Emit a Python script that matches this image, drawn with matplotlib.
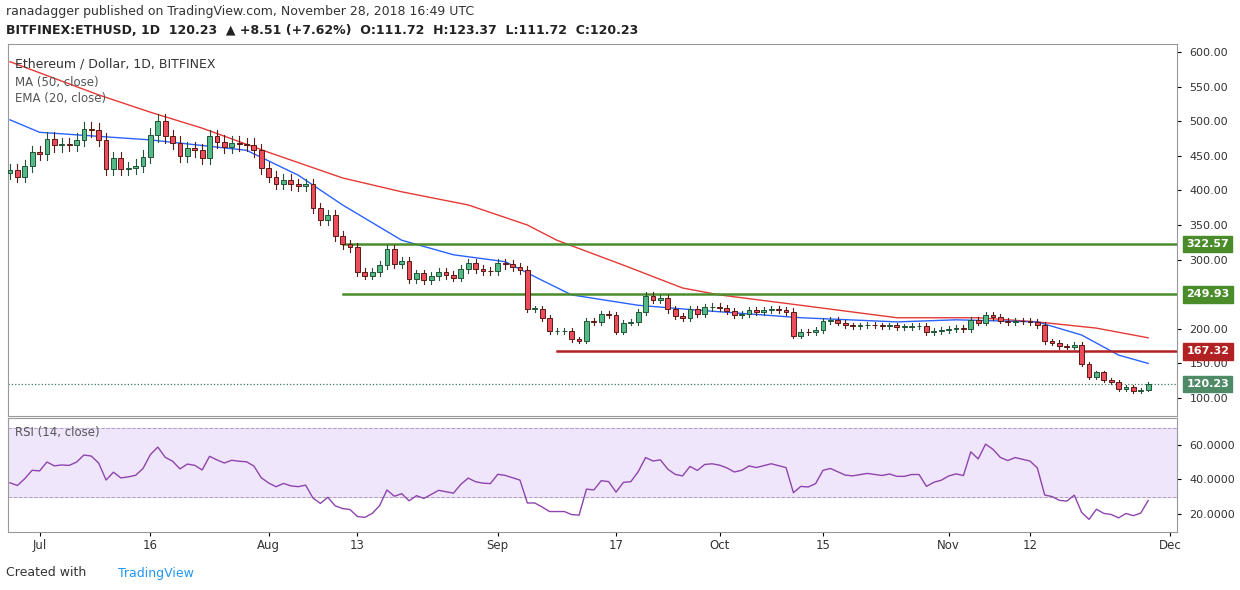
import numpy as np
import matplotlib.pyplot as plt

#chiusure giornaliere ETH/USD dal 27 giugno al 28 novembre 2018
closes=[430,420,435,455,453,475,465,467,466,473,489,487,473,431,447,431,433,436,449,480,
        500,478,469,450,461,458,447,478,470,463,469,467,466,458,433,420,410,415,409,407,
        409,375,357,365,334,322,318,282,277,282,292,315,294,298,272,280,270,276,282,278,
        274,286,295,287,284,283,295,293,289,285,229,229,215,197,197,197,185,183,212,210,
        222,220,196,209,210,224,248,242,244,228,218,215,229,222,231,232,230,226,220,222,
        227,225,227,229,227,225,190,196,195,198,211,213,209,205,204,205,206,205,204,205,
        203,203,204,204,195,197,198,200,201,200,213,209,220,217,212,210,212,211,210,206,
        182,180,175,174,177,149,130,137,126,123,113,116,110,111.72,120.23]
first_open=425
#medie mobili (indice giorno, valore)
ma_idx=[0,12,19,26,35,45,53,62,70,74,83,91,96,107,120,131,139,147,154]
ma_val=[586,538,513,490,455,418,398,379,350,328,292,259,249,234,216,216,210,201,187]
ema_idx=[0,4,19,32,39,45,53,60,67,72,76,85,93,107,120,128,139,145,150,154]
ema_val=[502,484,473,458,422,379,328,307,297,270,249,234,227,216,210,213,210,191,162,150]
#livelli orizzontali
livelli=[322.57,249.93,167.32]
inizio_livelli=[45,45,74]
colori_livelli=['#4a8c2a','#4a8c2a','#b22222']
tick_date=[4,19,35,47,66,82,96,110,127,138,157]
etichette_date=['Jul','16','Aug','13','Sep','17','Oct','15','Nov','12','Dec']

c=np.array(closes)
o=np.concatenate([[first_open],c[:-1]])
x=np.arange(len(c))
hi=np.maximum(o,c)*1.02
lo=np.minimum(o,c)*0.98

#calcolo RSI 14 alla Wilder
ag,al=7.0,12.0
rsi=[]
prev=first_open
for v in c:
    d=v-prev
    ag=(ag*13+max(d,0))/14
    al=(al*13+max(-d,0))/14
    rsi.append(100-100/(1+ag/al))
    prev=v

fig=plt.figure(figsize=(12.4,5.9),dpi=100)
ax=fig.add_axes([8/1240,1-416/590,1169/1240,372/590])
ax2=fig.add_axes([8/1240,1-532/590,1169/1240,114/590],sharex=ax)

#candele
for i in x:
    up=c[i]>=o[i]
    fc='#53b987' if up else '#eb4d5c'
    ec='#225437' if up else '#5b1a13'
    ax.plot([i,i],[lo[i],hi[i]],color=ec,linewidth=0.8,zorder=2)
    ax.bar(i,abs(c[i]-o[i]) or 0.5,bottom=min(o[i],c[i]),width=0.65,color=fc,edgecolor=ec,linewidth=0.7,zorder=3)

ax.plot(ma_idx,ma_val,color='#e53935',linewidth=1,zorder=1)
ax.plot(ema_idx,ema_val,color='#2962ff',linewidth=1,zorder=1)
for lv,st,col in zip(livelli,inizio_livelli,colori_livelli):
    ax.plot([st,158],[lv,lv],color=col,linewidth=1.8,zorder=1)
ax.axhline(c[-1],color='#3d7a5a',linestyle=':',linewidth=0.9)

ax.set_xlim(-0.27,157.9)
ax.set_ylim(74,611.6)
ax.yaxis.tick_right()
yt=[100,150,200,300,350,400,450,500,550,600]
ax.set_yticks(yt)
ax.set_yticklabels(['%.2f'%v for v in yt],fontsize=8,color='#333333')
ax.tick_params(axis='x',labelbottom=False,length=0)
ax.tick_params(axis='y',length=3,pad=6)
for lv,col in [(322.57,'#4a8c2a'),(249.93,'#4a8c2a'),(167.32,'#b22222'),(c[-1],'#4f8a67')]:
    ax.text(1.008,lv,'%.2f'%lv,transform=ax.get_yaxis_transform(),fontsize=8,color='white',
            va='center',ha='left',fontweight='bold',bbox=dict(boxstyle='square,pad=0.3',fc=col,ec=col))
ax.text(0.006,0.965,'Ethereum / Dollar, 1D, BITFINEX',transform=ax.transAxes,fontsize=9,color='#333333',va='top')
ax.text(0.006,0.915,'MA (50, close)',transform=ax.transAxes,fontsize=8.5,color='#555555',va='top')
ax.text(0.006,0.87,'EMA (20, close)',transform=ax.transAxes,fontsize=8.5,color='#555555',va='top')

ax2.axhspan(30,70,color='#ede0fa',alpha=0.8)
ax2.axhline(70,color='#b0a0c0',linestyle='--',linewidth=0.7)
ax2.axhline(30,color='#b0a0c0',linestyle='--',linewidth=0.7)
ax2.plot(x,rsi,color='#8e44ad',linewidth=1)
ax2.set_ylim(9.6,75.6)
ax2.yaxis.tick_right()
ax2.set_yticks([20,40,60])
ax2.set_yticklabels(['20.0000','40.0000','60.0000'],fontsize=8,color='#333333')
ax2.tick_params(axis='y',length=3,pad=6)
ax2.set_xticks(tick_date)
ax2.set_xticklabels(etichette_date,fontsize=8.5,color='#333333')
ax2.tick_params(axis='x',length=3,pad=2)
ax2.text(0.006,0.93,'RSI (14, close)',transform=ax2.transAxes,fontsize=8.5,color='#555555',va='top')
for a in (ax,ax2):
    for s in a.spines.values():
        s.set_color('#999999')
        s.set_linewidth(0.8)

fig.text(6/1240,1-12/590,'ranadagger published on TradingView.com, November 28, 2018 16:49 UTC',fontsize=9,color='#333333',va='center')
fig.text(6/1240,1-30/590,'BITFINEX:ETHUSD, 1D  120.23  \u25b2 +8.51 (+7.62%)  O:111.72  H:123.37  L:111.72  C:120.23',
         fontsize=9,color='#222222',fontweight='bold',va='center')
fig.text(6/1240,1-573/590,'Created with',fontsize=9,color='#333333',va='center')
fig.text(118/1240,1-573/590,'TradingView',fontsize=9,color='#2196f3',va='center')
fig.savefig('out.png',dpi=100)
